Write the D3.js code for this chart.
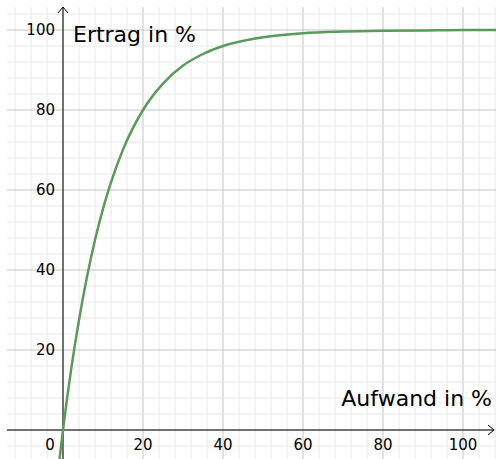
<!DOCTYPE html>
<html>
<head>
<meta charset="utf-8">
<script src="https://cdn.jsdelivr.net/npm/d3@7"></script>
<style>
  body { margin: 0; background: #fff; }
  svg { display: block; font-family: "DejaVu Sans", sans-serif; }
</style>
</head>
<body>
<svg id="chart" width="496" height="459"></svg>
<script>
// values
let aufwand = [-1, 0, 2, 4, 6, 8, 10, 12, 15, 20, 25, 30, 35, 40, 50, 60, 70, 80, 90, 100, 110];
let ertrag  = [-8.4, 0, 14.9, 27.5, 38.3, 47.5, 55.3, 61.9, 70.1, 80, 86.6, 91.1, 94, 96, 98.2, 99.2, 99.6, 99.8, 99.9, 100, 100];

let xTicks = [20, 40, 60, 80, 100];
let yTicks = [20, 40, 60, 80, 100];

let svg = d3.select('#chart');
let width = 496, height = 459;

let x = d3.scaleLinear().domain([-15.75, 108.25]).range([0, width]);
let y = d3.scaleLinear().domain([107.5, -7.25]).range([0, height]);

// grid
svg.append('clipPath').attr('id', 'gridclip')
  .append('rect').attr('x', 7).attr('y', 7).attr('width', width - 7).attr('height', height - 7);

let grid = svg.append('g').attr('clip-path', 'url(#gridclip)');

let minor = d3.range(-16, 112, 4);
grid.selectAll('.vminor').data(minor).enter().append('line')
  .attr('x1', d => x(d)).attr('x2', d => x(d))
  .attr('y1', 0).attr('y2', height)
  .attr('stroke', d => d % 20 === 0 ? '#c4c4c4' : '#e8e8e8')
  .attr('stroke-width', 1);

grid.selectAll('.hminor').data(minor).enter().append('line')
  .attr('y1', d => y(d)).attr('y2', d => y(d))
  .attr('x1', 0).attr('x2', width)
  .attr('stroke', d => d % 20 === 0 ? '#c4c4c4' : '#e8e8e8')
  .attr('stroke-width', 1);

// axes
svg.append('line')
  .attr('x1', 7).attr('x2', width - 2)
  .attr('y1', y(0)).attr('y2', y(0))
  .attr('stroke', '#000').attr('stroke-width', 1);
svg.append('path')
  .attr('d', `M${width - 8},${y(0) - 5} L${width - 2},${y(0)} L${width - 8},${y(0) + 5}`)
  .attr('fill', 'none').attr('stroke', '#000').attr('stroke-width', 1);

svg.append('line')
  .attr('x1', x(0)).attr('x2', x(0))
  .attr('y1', 7).attr('y2', height)
  .attr('stroke', '#000').attr('stroke-width', 1);
svg.append('path')
  .attr('d', `M${x(0) - 5},13 L${x(0)},7 L${x(0) + 5},13`)
  .attr('fill', 'none').attr('stroke', '#000').attr('stroke-width', 1);

// tick labels
svg.selectAll('.ylab').data(yTicks).enter().append('text')
  .attr('x', x(0) - 8).attr('y', d => y(d))
  .attr('dy', '0.36em')
  .attr('text-anchor', 'end')
  .style('font-size', '15px')
  .text(d => d);

svg.selectAll('.xlab').data(xTicks).enter().append('text')
  .attr('x', d => x(d)).attr('y', y(0) + 15)
  .attr('dy', '0.36em')
  .attr('text-anchor', 'middle')
  .style('font-size', '15px')
  .text(d => d);

svg.append('text')
  .attr('x', x(0) - 13).attr('y', y(0) + 15)
  .attr('dy', '0.36em')
  .attr('text-anchor', 'middle')
  .style('font-size', '15px')
  .text('0');

// curve
let pts = aufwand.map((d, i) => [d, ertrag[i]]);
let line = d3.line().x(d => x(d[0])).y(d => y(d[1])).curve(d3.curveMonotoneX);

svg.append('path')
  .datum(pts)
  .attr('d', line)
  .attr('fill', 'none')
  .attr('stroke', '#5a9a5a')
  .attr('stroke-width', 2.5)
  .attr('stroke-linecap', 'round');

// axis titles
svg.append('text')
  .attr('x', 73).attr('y', 42)
  .style('font-size', '22px')
  .text('Ertrag in %');

svg.append('text')
  .attr('x', 492).attr('y', 406)
  .attr('text-anchor', 'end')
  .style('font-size', '22px')
  .text('Aufwand in %');
</script>
</body>
</html>
